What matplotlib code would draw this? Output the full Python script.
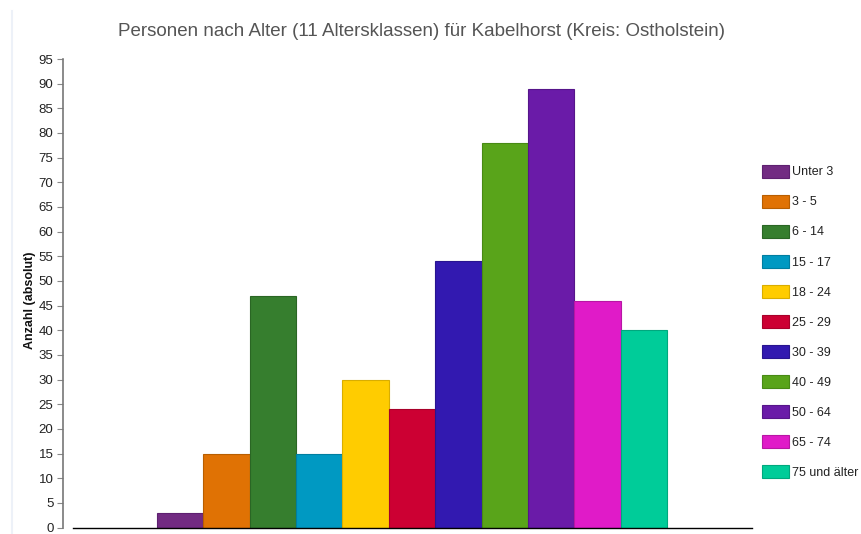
import matplotlib
matplotlib.use("Agg")
import matplotlib.pyplot as plt
from matplotlib.patches import Patch
from matplotlib.lines import Line2D

categories = ["Unter 3", "3 - 5", "6 - 14", "15 - 17", "18 - 24", "25 - 29",
              "30 - 39", "40 - 49", "50 - 64", "65 - 74", "75 und älter"]
values = [3, 15, 47, 15, 30, 24, 54, 78, 89, 46, 40]
colors = ["#722B82", "#E07204", "#367E2E", "#0099C2", "#FFCC00", "#CC0033",
          "#3219B0", "#59A41A", "#6A1BA8", "#E01BC8", "#00CC99"]
edges = ["#5E2070", "#B85E00", "#2A6624", "#007EA0", "#D9AD00", "#A8002A",
         "#281490", "#488A14", "#56158A", "#B816A4", "#00A87E"]
yticks = list(range(0, 100, 5))

plt.rcParams['font.family'] = ['Liberation Sans', 'DejaVu Sans']

fig = plt.figure(figsize=(8.62, 5.34), dpi=100)
W, H = 862, 534
ax = fig.add_axes([73 / W, (H - 527.5) / H, (752 - 73) / W, (527.5 - 59) / H])

xs = list(range(len(values)))
ax.bar(xs, values, width=1.0, color=colors, edgecolor=edges, linewidth=0.8, zorder=2)

ax.set_xlim(-2.31, 12.33)
ax.set_ylim(0, 95)
ax.set_yticks(yticks)
ax.set_xticks([])
for s in ["top", "right"]:
    ax.spines[s].set_visible(False)
ax.spines["left"].set_position(("outward", 7))
ax.spines["left"].set_color("#777777")
ax.spines["left"].set_linewidth(1.2)
ax.spines["bottom"].set_color("#000000")
ax.spines["bottom"].set_linewidth(1.0)
ax.spines["bottom"].set_zorder(3)
ax.tick_params(axis="y", length=4, color="#888888", labelsize=9.5,
               labelcolor="#222222", pad=3)

fig.text(30 / W, 1 - 300 / H, "Anzahl (absolut)", rotation=90, fontsize=9,
         fontweight="bold", ha="center", va="center", color="#111111")
fig.text(422 / W, 1 - 31 / H,
         "Personen nach Alter (11 Altersklassen) für Kabelhorst (Kreis: Ostholstein)",
         fontsize=13.5, color="#555555", ha="center", va="center")

# faint left frame line
fig.add_artist(Line2D([12.5 / W, 12.5 / W], [0, 1 - 11 / H],
                      color="#EDF1F8", linewidth=1.5, transform=fig.transFigure))

handles = [Patch(facecolor=c, edgecolor=e, linewidth=0.8) for c, e in zip(colors, edges)]
leg = fig.legend(handles, categories, loc="upper left",
                 bbox_to_anchor=(760 / W, 1 - 162 / H), frameon=False,
                 fontsize=9, handlelength=2.15, handleheight=1.25,
                 handletextpad=0.25, labelspacing=1.3, borderaxespad=0,
                 borderpad=0.2)
for t in leg.get_texts():
    t.set_color("#222222")

fig.savefig("out.png", dpi=100, facecolor="white")
